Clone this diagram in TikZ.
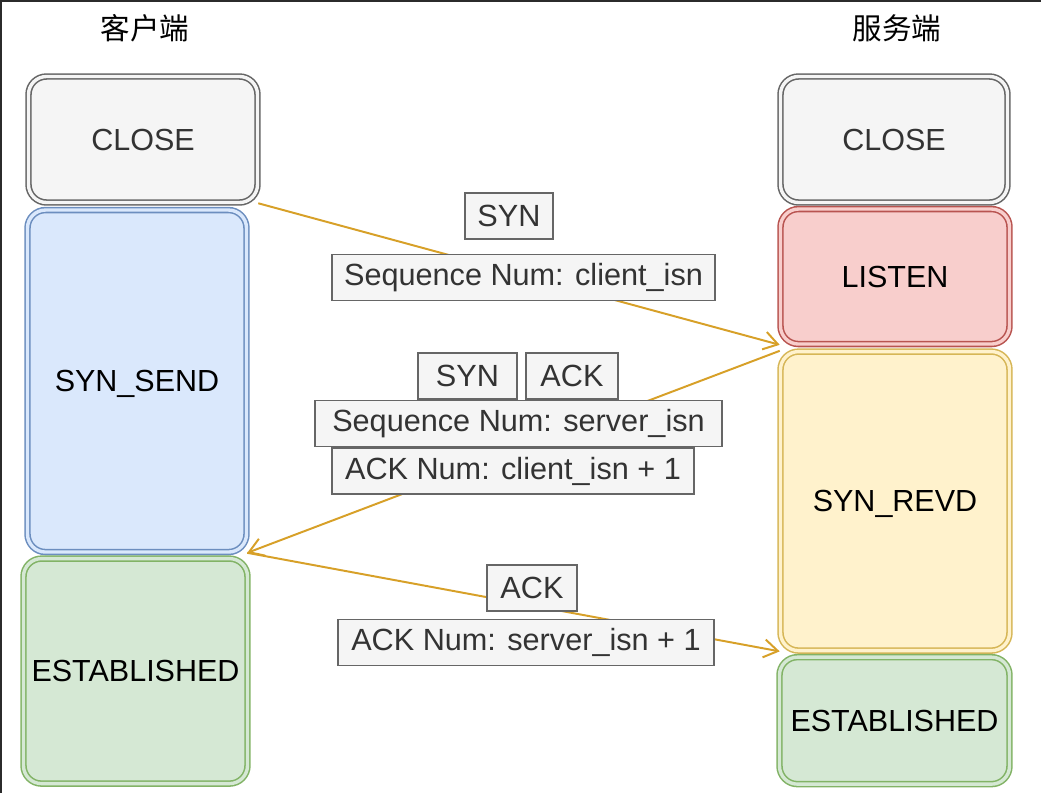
\documentclass[tikz,border=0pt]{standalone}
\usepackage{fontspec}
\setmainfont{Liberation Sans}
\newfontfamily\cjk{Noto Sans CJK SC}
\usetikzlibrary{positioning, arrows.meta}
\definecolor{grayfill}{HTML}{F5F5F5}
\definecolor{grayline}{HTML}{666666}
\definecolor{graytext}{HTML}{333333}
\definecolor{bluefill}{HTML}{DAE8FC}
\definecolor{blueline}{HTML}{6C8EBF}
\definecolor{redfill}{HTML}{F8CECC}
\definecolor{redline}{HTML}{B85450}
\definecolor{yellowfill}{HTML}{FFF2CC}
\definecolor{yellowline}{HTML}{D6B656}
\definecolor{greenfill}{HTML}{D5E8D4}
\definecolor{greenline}{HTML}{82B366}
\definecolor{msgline}{RGB}{215,160,40}
\definecolor{framecol}{HTML}{2B2B2B}
\tikzset{%
  >={Straight Barb[length=3.5mm,width=4.5mm]},
  % Specifications for style of nodes:
  base/.style = {
    rectangle,
    rounded corners=0.45cm,
    line width=1.1pt,
    double distance=2.4pt,
    text centered,
    text depth=0pt,
    font=\fontsize{21.7}{26}\selectfont
  },
  closebox/.style={base, draw=grayline, double=grayfill, fill=grayfill, text=graytext},
  sendbox/.style={base, draw=blueline, double=bluefill, fill=bluefill},
  listenbox/.style={base, draw=redline, double=redfill, fill=redfill},
  revdbox/.style={base, draw=yellowline, double=yellowfill, fill=yellowfill},
  estbox/.style={base, draw=greenline, double=greenfill, fill=greenfill},
  tag/.style={
    rectangle,
    draw=grayline,
    fill=grayfill,
    text=graytext,
    line width=1.3pt,
    minimum height=1.15cm,
    font=\fontsize{21.8}{26}\selectfont
  },
  side/.style={font=\cjk\fontsize{21}{25}\selectfont},
  msg/.style={->, draw=msgline, line width=1.4pt},
}

\begin{document}
\begin{tikzpicture}
  \useasboundingbox (0,0) rectangle (26.025,-19.825);
  \draw[framecol, line width=0.1cm] (0,-19.825) -- (0,0) -- (26.025,0);
  % nodes
  \node (client) [side] at (3.625,-0.7) {客户端};
  \node (server) [side] at (22.425,-0.7) {服务端};

  \node (close_c)  [closebox, minimum width=5.725cm, minimum height=3.15cm]
    at (3.575,-3.4875) {CLOSE};
  \node (syn_send) [sendbox, minimum width=5.475cm, minimum height=8.55cm,
    below=0.15cm of close_c, xshift=-0.15cm] {SYN\_SEND};
  \node (est_c)    [estbox, minimum width=5.6cm, minimum height=5.625cm,
    below=0.125cm of syn_send, xshift=-0.0375cm] {ESTABLISHED};

  \node (close_s)  [closebox, minimum width=5.675cm, minimum height=3.15cm]
    at (22.35,-3.4875) {CLOSE};
  \node (listen)   [listenbox, minimum width=5.725cm, minimum height=3.375cm,
    below=0.125cm of close_s, xshift=0.025cm] {LISTEN};
  \node (syn_revd) [revdbox, minimum width=5.725cm, minimum height=7.475cm,
    below=0.15cm of listen] {SYN\_REVD};
  \node (est_s)    [estbox, minimum width=5.75cm, minimum height=3.175cm,
    below=0.125cm of syn_revd, xshift=-0.0125cm] {ESTABLISHED};

  % lines
  \draw[msg] (close_c.south east) -- (listen.south west);
  \draw[msg] (syn_revd.north west) -- (syn_send.south east);
  \draw[msg] (syn_send.south east) -- (syn_revd.south west);

  % labels on the lines
  \node (syn_a)   [tag, minimum width=2.2cm]    at (12.725,-5.4)     {SYN};
  \node (seq_c)   [tag, minimum width=9.575cm]  at (13.0875,-6.9375) {Sequence Num: client\_isn};
  \node (syn_b)   [tag, minimum width=2.475cm]  at (11.6875,-9.4)    {SYN};
  \node (ack_b)   [tag, minimum width=2.3cm]    at (14.3,-9.4)       {ACK};
  \node (seq_s)   [tag, minimum width=10.175cm] at (12.9625,-10.5875) {Sequence Num: server\_isn};
  \node (ack_c)   [tag, minimum width=9.05cm]   at (12.825,-11.775)  {ACK Num: client\_isn + 1};
  \node (ack_d)   [tag, minimum width=2.25cm]   at (13.3,-14.7)      {ACK};
  \node (ack_s)   [tag, minimum width=9.4cm]    at (13.15,-16.0625)  {ACK Num: server\_isn + 1};
\end{tikzpicture}
\end{document}
